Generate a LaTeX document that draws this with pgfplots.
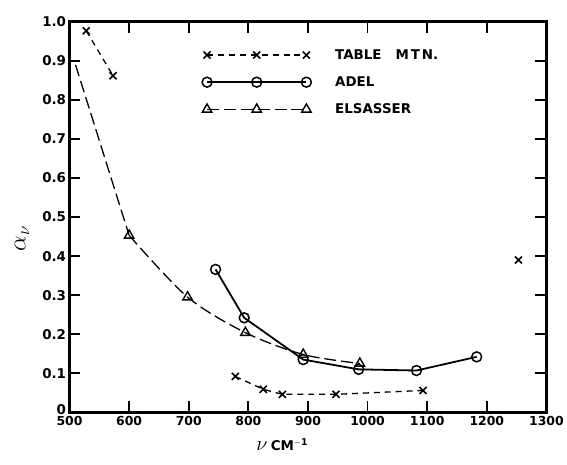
\documentclass[border=0pt]{standalone}
\usepackage{fontspec}
\setmainfont{DejaVu Sans}
\usepackage{pgfplots}
\pgfplotsset{compat=1.18}
\pgfplotsset{legend image code/.code={\draw[#1] plot coordinates {(0bp,0bp) (50bp,0bp) (100bp,0bp)};}}
\newcommand\tf{\fontsize{13.5bp}{15bp}\selectfont\bfseries}
\newcommand\xf{\fontsize{12.5bp}{15bp}\selectfont\bfseries}
\pgfplotsset{
  tick style={line width=1.8bp, black},
  major tick length=11bp,
  axis line style={line width=2.8bp},
}
\begin{document}
\begin{tikzpicture}
\path (-70bp,-53bp) rectangle (497bp,415bp);
\begin{axis}[
  at={(0,0)}, anchor=south west,
  width=480bp, height=393bp, scale only axis,
  xmin=500, xmax=1300, ymin=0, ymax=1,
  xtick={500,600,700,800,900,1000,1100,1200,1300},
  xticklabels={500,600,700,800,900,1000,1100,1200,1300},
  ytick={0,0.1,0.2,0.3,0.4,0.5,0.6,0.7,0.8,0.9,1.0},
  yticklabels={\raisebox{5bp}{0},0.1,0.2,0.3,0.4,0.5,0.6,0.7,0.8,0.9,1.0},
  tick align=inside,
  yticklabel style={font=\tf},
  xticklabel style={font=\xf},
  xlabel={{\fontsize{22bp}{24bp}\selectfont$\nu$}\ \tf CM$^{\mathbf{-1}}$},
  xlabel style={at={(axis description cs:0.446,-0.083)}, anchor=center},
  ylabel={\fontsize{24bp}{26bp}\selectfont$\alpha_{\nu}$},
  ylabel style={at={(axis description cs:-0.1,0.445)}, anchor=center},
  legend style={draw=none, fill=none, at={(axis cs:722,0.935)}, anchor=north west,
    inner sep=0pt, font=\tf, row sep=12bp, column sep=22bp},
  legend cell align=left,
]
% Table Mtn
\addplot[black, line width=1.3bp, dash pattern=on 6bp off 5bp, mark=x, mark size=5bp,
  mark options={solid, line width=1.6bp}, unbounded coords=jump]
  coordinates {(528,0.977) (573,0.862) (700,nan) (778,0.092) (825,0.059) (857,0.046) (947,0.046) (1093,0.056) (1150,nan) (1253,0.39)};
\addlegendentry{TABLE\hspace{14bp}M\hspace{2bp}T\hspace{2bp}N.}
% Adel
\addplot[black, line width=1.8bp, mark=o, mark size=5bp, mark options={solid, fill=white, line width=1.5bp}]
  coordinates {(745,0.366) (793,0.242) (892,0.135) (985,0.110) (1082,0.107) (1183,0.142)};
\addlegendentry{ADEL}
% Elsasser
\addplot[black, line width=1.3bp, dash pattern=on 12bp off 5bp, forget plot]
  coordinates {(510,0.89) (600,0.453)};
\addplot[black, line width=1.3bp, dash pattern=on 12bp off 5bp, smooth, tension=0.5,
  mark=triangle, mark size=5.5bp, mark options={solid, fill=white, line width=1.4bp}]
  coordinates {(600,0.453) (698,0.295) (795,0.204) (892,0.148) (987,0.125)};
\addlegendentry{ELSASSER}
\end{axis}
\end{tikzpicture}
\end{document}
